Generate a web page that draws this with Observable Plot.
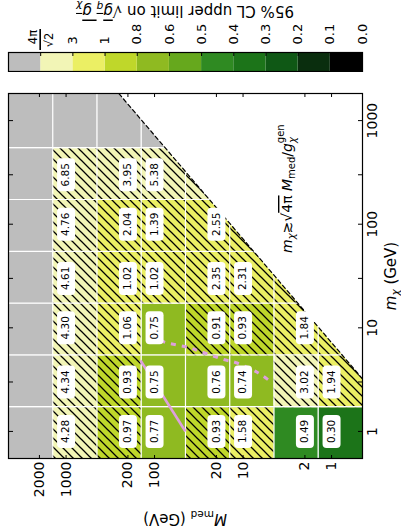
<!DOCTYPE html>
<html><head><meta charset="utf-8">
<script src="https://cdn.jsdelivr.net/npm/d3@7"></script>
<script src="https://cdn.jsdelivr.net/npm/@observablehq/plot@0.6"></script>
<style>
html,body{margin:0;padding:0;background:#fff;overflow:hidden;width:401px;height:529px;}
#page{position:absolute;left:0;top:0;width:529px;height:401px;transform-origin:0 0;transform:translate(0,529px) rotate(-90deg);font-family:"DejaVu Sans",sans-serif;}
#main,#cbar{position:absolute;top:0;}
#main{left:0px} #cbar{left:457px}
</style></head><body><div id="page"><div id="main"></div><div id="cbar"></div></div>
<script>
// ---- data ----
const mChi = [1, 3, 10, 30, 100, 300, 1000];          // m_chi (GeV)
const mMed = [1, 2, 10, 20, 100, 200, 1000, 2000];    // M_med (GeV)
// 95% CL upper limit per M_med, listed over mChi (null = no limit shown / grey)
const limMed1    = [0.30, 1.94, null, null, null, null, null];
const limMed2    = [0.49, 3.02, 1.84, null, null, null, null];
const limMed10   = [1.58, 0.74, 0.93, 2.31, null, null, null];
const limMed20   = [0.93, 0.76, 0.91, 2.35, 2.55, null, null];
const limMed100  = [0.77, 0.75, 0.75, 1.02, 1.39, 5.38, null];
const limMed200  = [0.97, 0.93, 1.06, 1.02, 2.04, 3.95, null];
const limMed1000 = [4.28, 4.34, 4.30, 4.61, 4.76, 6.85, null];
const limMed2000 = [null, null, null, null, null, null, null];
// unlabelled cells cut by the boundary (colour)
const edgeMed = [1, 2, 10, 20];
const edgeChi = [10, 30, 100, 300];
const edgeLim = [2.0, 2.0, 2.0, 4.0];
// pink contours
const obsChi = [1.0, 4.84];
const obsMed = [44.7, 144];
const expChi = [7.55, 7.22, 6.46, 5.91, 4.95, 4.63, 3.71, 3.03];
const expMed = [85.7, 75.2, 41.3, 30.3, 16.6, 12.2, 6.87, 4.90];
// colour bins
const binEdges = [0.1, 0.2, 0.3, 0.4, 0.5, 0.6, 0.8, 1, 3, 8.886];
const binColors = ["#000000", "#0a2e0e", "#0f5815", "#1c7419", "#2f8a22", "#66a81d", "#8fba21", "#bfd72a", "#ebef64", "#f2f5b6"];
const gray = "#bdbdbd";
const cbTickLabels = ["0.0", "0.1", "0.2", "0.3", "0.4", "0.5", "0.6", "0.8", "1", "3", ""];
const boundaryRatio = 7.2;

// ---- layout constants ----
const xDomain = [0.548, 1826];
const yDomain = [0.447, 4472];

const limits = [limMed1, limMed2, limMed10, limMed20, limMed100, limMed200, limMed1000, limMed2000];
function edges(vals, dom) {
  const e = [dom[0]];
  for (let k = 0; k < vals.length - 1; k++) e.push(Math.sqrt(vals[k] * vals[k + 1]));
  e.push(dom[1]);
  return e;
}
const chiE = edges(mChi, xDomain), medE = edges(mMed, yDomain);
const cells = [];
mMed.forEach((M, i) => mChi.forEach((m, j) => {
  cells.push({M, m, x1: chiE[j], x2: chiE[j + 1], y1: medE[i], y2: medE[i + 1], v: limits[i][j], label: limits[i][j] != null});
}));
edgeMed.forEach((M, k) => {
  const c = cells.find(d => d.M === M && d.m === edgeChi[k]);
  c.v = edgeLim[k]; c.label = false;
});
const grayCells = cells.filter(d => d.v == null);
const colCells = cells.filter(d => d.v != null);
const hatchCells = colCells.filter(d => d.v > 0.8);
const labelled = colCells.filter(d => d.label);
const excl = [
  {m: boundaryRatio * yDomain[0], M: yDomain[0]},
  {m: xDomain[1], M: xDomain[1] / boundaryRatio},
  {m: xDomain[1], M: yDomain[0]}
];
const diag = excl.slice(0, 2);
const obs = obsChi.map((m, i) => ({m, M: obsMed[i]}));
const exp = expChi.map((m, i) => ({m, M: expMed[i]}));

const roundBox = {
  draw(ctx) {
    const w = 16.5, h = 9, r = 4;
    ctx.moveTo(-w + r, -h);
    ctx.lineTo(w - r, -h); ctx.arcTo(w, -h, w, -h + r, r);
    ctx.lineTo(w, h - r); ctx.arcTo(w, h, w - r, h, r);
    ctx.lineTo(-w + r, h); ctx.arcTo(-w, h, -w, h - r, r);
    ctx.lineTo(-w, -h + r); ctx.arcTo(-w, -h, -w + r, -h, r);
    ctx.closePath();
  }
};

const main = Plot.plot({
  width: 529, height: 401,
  marginLeft: 70, marginRight: 94, marginTop: 8, marginBottom: 39,
  style: {fontFamily: "DejaVu Sans, sans-serif", fontSize: "14px", background: "transparent", color: "black"},
  x: {type: "log", domain: xDomain},
  y: {type: "log", domain: yDomain},
  color: {type: "threshold", domain: binEdges, range: [...binColors, gray]},
  marks: [
    Plot.rect(grayCells, {x1: "x1", x2: "x2", y1: "y1", y2: "y2", fill: gray}),
    Plot.rect(colCells, {x1: "x1", x2: "x2", y1: "y1", y2: "y2", fill: "v"}),
    Plot.rect(hatchCells, {x1: "x1", x2: "x2", y1: "y1", y2: "y2", fill: "url(#hatch)"}),
    Plot.ruleX(chiE.slice(1, -1), {stroke: "white", strokeWidth: 1.2}),
    Plot.ruleY(medE.slice(1, -1), {stroke: "white", strokeWidth: 1.2}),
    Plot.line(excl, {x: "m", y: "M", fill: "white", stroke: "none"}),
    Plot.line(diag, {x: "m", y: "M", stroke: "black", strokeWidth: 1.2, strokeDasharray: "4,3"}),
    Plot.line(obs, {x: "m", y: "M", stroke: "#dda0dd", strokeWidth: 2.6, strokeLinecap: "butt"}),
    Plot.line(exp, {x: "m", y: "M", stroke: "#dda0dd", strokeWidth: 3, strokeDasharray: "5,6", strokeLinecap: "butt", curve: "catmull-rom"}),
    Plot.dot(labelled, {x: "m", y: "M", symbol: roundBox, fill: "white", stroke: "none"}),
    Plot.text(labelled, {x: "m", y: "M", text: d => d.v.toFixed(2), fontSize: 10.5, fill: "black"}),
    Plot.frame({stroke: "black", strokeWidth: 1.2}),
    Plot.axisX(mChi, {anchor: "bottom", tickSize: -4, tickPadding: 9, fontSize: 14, label: null, tickFormat: d => String(d)}),
    Plot.axisX(mChi, {anchor: "top", tickSize: -4, tickFormat: () => "", label: null}),
    Plot.axisY(mMed, {anchor: "left", tickSize: -4, tickPadding: 7, fontSize: 14, label: null, tickFormat: d => String(d)}),
    Plot.axisY(mMed, {anchor: "right", tickSize: -4, tickFormat: () => "", label: null})
  ]
});
document.getElementById("main").appendChild(main);

const svg = d3.select(main);
const defs = svg.insert("defs", ":first-child");
const pat = defs.append("pattern").attr("id", "hatch").attr("patternUnits", "userSpaceOnUse").attr("width", 9).attr("height", 9);
pat.append("path").attr("d", "M-1,1 L1,-1 M0,9 L9,0 M8,10 L10,8").attr("stroke", "black").attr("stroke-width", 1.25);

// axis labels
const ml = svg.append("text").attr("transform", "translate(15,185) rotate(-90)").attr("text-anchor", "middle")
  .attr("font-size", 15).attr("fill", "black");
ml.append("tspan").attr("font-style", "italic").text("M");
ml.append("tspan").attr("font-size", 10.5).attr("dy", 3).text("med");
ml.append("tspan").attr("dy", -3).text(" (GeV)");

const xl = svg.append("text").attr("x", 253).attr("y", 396).attr("text-anchor", "middle").attr("font-size", 15).attr("fill", "black");
xl.append("tspan").attr("font-style", "italic").text("m");
xl.append("tspan").attr("font-size", 10.5).attr("font-style", "italic").attr("dy", 3).text("χ");
xl.append("tspan").attr("dy", -3).text(" (GeV)");

// boundary annotation
const an = svg.append("text").attr("x", 276).attr("y", 292).attr("text-anchor", "start").attr("font-size", 14).attr("fill", "black");
an.append("tspan").attr("font-style", "italic").text("m");
an.append("tspan").attr("font-size", 10).attr("font-style", "italic").attr("dy", 3).text("χ");
an.append("tspan").attr("dy", -3).text("≳√");
an.append("tspan").style("text-decoration", "overline").text("4π");
an.append("tspan").attr("font-style", "italic").text(" M");
an.append("tspan").attr("font-size", 10).attr("dy", 3).text("med");
an.append("tspan").attr("dy", -3).text("/");
an.append("tspan").attr("font-style", "italic").text("g");
an.append("tspan").attr("font-size", 10).attr("font-style", "italic").attr("dy", 4).text("χ");
an.append("tspan").attr("font-size", 10).attr("dx", -6).attr("dy", -12).text("gen");

// ---- colour bar ----
const cbColors = [...binColors, gray];
const cbar = Plot.plot({
  width: 72, height: 401,
  marginLeft: 0, marginRight: 53, marginTop: 8, marginBottom: 39,
  style: {fontFamily: "DejaVu Sans, sans-serif", fontSize: "13px", background: "transparent", color: "black"},
  x: {domain: [0, 1], axis: null},
  y: {domain: [0, 11]},
  color: {type: "identity"},
  marks: [
    Plot.rect(cbColors, {x1: 0, x2: 1, y1: (d, i) => i, y2: (d, i) => i + 1, fill: d => d}),
    Plot.frame({stroke: "black", strokeWidth: 1.2}),
    Plot.axisY(d3.range(11), {anchor: "right", tickSize: -4, tickPadding: 12, fontSize: 13, label: null, tickFormat: i => cbTickLabels[i]})
  ]
});
document.getElementById("cbar").appendChild(cbar);
const cs = d3.select(cbar);
const yT = cbar.scale("y");
const yFrac = yT.apply(10);
cs.append("text").attr("x", 35).attr("y", yFrac - 3).attr("text-anchor", "middle").attr("font-size", 11.5).attr("fill", "black").text("4π");
cs.append("line").attr("x1", 22).attr("x2", 43).attr("y1", yFrac).attr("y2", yFrac).attr("stroke", "black").attr("stroke-width", 1.6);
cs.append("text").attr("x", 32).attr("y", yFrac + 13).attr("text-anchor", "middle").attr("font-size", 11.5).attr("fill", "black").text("√2");
const cl = cs.append("text").attr("transform", "translate(66,185) rotate(-90)").attr("text-anchor", "middle").attr("font-size", 15).attr("fill", "black");
cl.append("tspan").text("95% CL upper limit on √");
const ov = cl.append("tspan").style("text-decoration", "overline");
ov.append("tspan").attr("font-style", "italic").text("g");
ov.append("tspan").attr("font-size", 10.5).attr("font-style", "italic").attr("dy", 3).text("q");
ov.append("tspan").attr("font-style", "italic").attr("dy", -3).text(" g");
ov.append("tspan").attr("font-size", 10.5).attr("font-style", "italic").attr("dy", 3).text("χ");
</script></body></html>
